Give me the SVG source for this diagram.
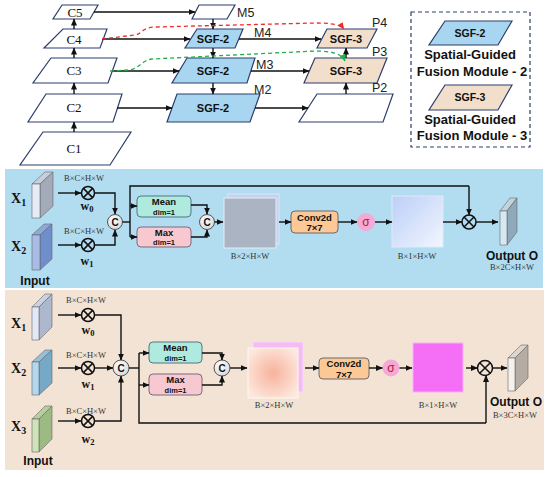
<svg xmlns="http://www.w3.org/2000/svg" width="550" height="477" viewBox="0 0 550 477">
<defs>
<marker id="ah" markerUnits="userSpaceOnUse" markerWidth="7" markerHeight="6" refX="6.5" refY="3" orient="auto"><path d="M0,0 L7,3 L0,6 z" fill="#111"/></marker>
<marker id="ahr" markerUnits="userSpaceOnUse" markerWidth="7" markerHeight="6" refX="6.5" refY="3" orient="auto"><path d="M0,0 L7,3 L0,6 z" fill="#ee2a2a"/></marker>
<marker id="ahg" markerUnits="userSpaceOnUse" markerWidth="7" markerHeight="6" refX="6.5" refY="3" orient="auto"><path d="M0,0 L7,3 L0,6 z" fill="#22b14c"/></marker>
<linearGradient id="sigB" x1="0" y1="0" x2="1" y2="1"><stop offset="0" stop-color="#bccff8"/><stop offset="1" stop-color="#f2f6fe"/></linearGradient>
<radialGradient id="peach" cx="0.5" cy="0.5" r="0.6"><stop offset="0" stop-color="#f8b29c"/><stop offset="1" stop-color="#fce8de"/></radialGradient>
<radialGradient id="cg" cx="0.4" cy="0.35" r="0.7"><stop offset="0" stop-color="#ffffff"/><stop offset="1" stop-color="#d6d6d6"/></radialGradient>
<style>
.pg{stroke:#2c3e6b;stroke-width:1.2;fill:#fff}
.s2{fill:#a8d6f0}
.s3{fill:#f2dfcb}
.ln{fill:none;stroke:#111;stroke-width:1.4}
.ar{fill:none;stroke:#111;stroke-width:1.4;marker-end:url(#ah)}
.cl{font-family:"Liberation Serif",serif;font-size:13px;fill:#111;text-anchor:middle}
.ml{font-family:"Liberation Sans",sans-serif;font-size:12.5px;fill:#222}
.sg{font-family:"Liberation Sans",sans-serif;font-size:11px;font-weight:bold;fill:#111;text-anchor:middle}
.lg{font-family:"Liberation Sans",sans-serif;font-size:13px;font-weight:bold;fill:#111;text-anchor:middle}
.dm{font-family:"Liberation Serif",serif;font-size:8.5px;fill:#333;text-anchor:middle}
.xl{font-family:"Liberation Serif",serif;font-size:14px;font-weight:bold;fill:#111}
.wl{font-family:"Liberation Serif",serif;font-size:12px;font-weight:bold;fill:#111;text-anchor:middle}
.bx{font-family:"Liberation Sans",sans-serif;font-weight:bold;fill:#111;text-anchor:middle}
.ot{font-family:"Liberation Sans",sans-serif;font-size:12px;font-weight:bold;fill:#111;text-anchor:middle}
.ox{fill:none;stroke:#111;stroke-width:1.5}
.cc{fill:url(#cg);stroke:#555;stroke-width:1}
.ct{font-family:"Liberation Sans",sans-serif;font-size:10px;font-weight:bold;fill:#111;text-anchor:middle}
.sl{stroke:#666;stroke-width:0.6}
.mean{fill:#aeeadd;stroke:#557585;stroke-width:1}
.max{fill:#f8c8d0;stroke:#7a6a80;stroke-width:1}
.conv{fill:#fbc896;stroke:#6a6a6a;stroke-width:1}
.sig{fill:#f5a9d5}
.sigt{font-family:"Liberation Sans",sans-serif;font-size:12px;fill:#b02040;text-anchor:middle}
</style>
</defs>

<!-- Top pyramid -->
<g id="C5"><polygon class="pg" points="62,5 98,5 90,19 53,19"/><text class="cl" x="75" y="17">C5</text></g>
<g id="C4"><polygon class="pg" points="63,29 107,29 100,48 44,48"/><text class="cl" x="74" y="44">C4</text></g>
<g id="C3"><polygon class="pg" points="51,58 117,58 108,83 33,83"/><text class="cl" x="74" y="75">C3</text></g>
<g id="C2"><polygon class="pg" points="46,94 122,94 113,122 28,122"/><text class="cl" x="74" y="112">C2</text></g>
<g id="C1"><polygon class="pg" points="43,132 131,132 110,165 20,165"/><text class="cl" x="74" y="153">C1</text></g>

<g id="M5"><polygon class="pg" points="199,5 235,5 227,19 192,19"/><text class="ml" x="237" y="17">M5</text></g>
<g id="M4"><polygon class="pg s2" points="197,29 243,29 235,48 185,48"/><text class="sg" x="213" y="43">SGF-2</text><text class="ml" x="254" y="37">M4</text></g>
<g id="M3"><polygon class="pg s2" points="187,58 255,58 247,83 172,83"/><text class="sg" x="213" y="75">SGF-2</text><text class="ml" x="256" y="69">M3</text></g>
<g id="M2"><polygon class="pg s2" points="177,94 260,94 250,122 167,122"/><text class="sg" x="213" y="112">SGF-2</text><text class="ml" x="254" y="94">M2</text></g>

<g id="P4"><polygon class="pg s3" points="327,29 377,29 367,48 317,48"/><text class="sg" x="346" y="43">SGF-3</text><text class="ml" x="372" y="27">P4</text></g>
<g id="P3"><polygon class="pg s3" points="315,58 387,58 377,83 304,83"/><text class="sg" x="346" y="75">SGF-3</text><text class="ml" x="372" y="56">P3</text></g>
<g id="P2"><polygon class="pg" points="317,94 393,94 383,122 299,122"/><text class="ml" x="372" y="92">P2</text></g>

<g id="top-connectors">
<line class="ar" x1="74" y1="132" x2="74" y2="122"/>
<line class="ar" x1="74" y1="94" x2="74" y2="83"/>
<line class="ar" x1="74" y1="58" x2="74" y2="48"/>
<line class="ar" x1="74" y1="29" x2="74" y2="19"/>
<line class="ar" x1="94" y1="12" x2="195" y2="12"/>
<line class="ar" x1="102" y1="39" x2="190" y2="39"/>
<line class="ar" x1="112" y1="71" x2="179" y2="71"/>
<line class="ar" x1="117" y1="108" x2="172" y2="108"/>
<line class="ar" x1="213" y1="19" x2="213" y2="29"/>
<line class="ar" x1="213" y1="48" x2="213" y2="58"/>
<line class="ar" x1="213" y1="83" x2="213" y2="94"/>
<line class="ar" x1="239" y1="39" x2="321" y2="39"/>
<line class="ar" x1="251" y1="71" x2="309" y2="71"/>
<line class="ar" x1="255" y1="108" x2="308" y2="108"/>
<line class="ar" x1="346" y1="94" x2="346" y2="83"/>
<line class="ar" x1="346" y1="58" x2="346" y2="48"/>
<path d="M102,39 L135,35 C142,34 141,28 155,27 L315,23 C333,23 341,25 344,29" fill="none" stroke="#ee2a2a" stroke-width="1.3" stroke-dasharray="4,3" marker-end="url(#ahr)"/>
<path d="M110,71 L128,70 C140,69 140,61 152,59 L315,51 C333,51 342,54 345,61" fill="none" stroke="#22b14c" stroke-width="1.3" stroke-dasharray="4,3" marker-end="url(#ahg)"/>
</g>

<!-- Legend -->
<g id="legend">
<rect x="411" y="12" width="119" height="135" fill="none" stroke="#2c3e6b" stroke-width="1.2" stroke-dasharray="4,3"/>
<polygon class="pg s2" points="445,21 512,21 498,45 429,45"/><text class="sg" x="470" y="37" style="font-size:10.5px">SGF-2</text>
<text class="lg" x="470" y="59">Spatial-Guided</text><text class="lg" x="472" y="76">Fusion Module - 2</text>
<polygon class="pg s3" points="445,85 512,85 498,110 429,110"/><text class="sg" x="470" y="101" style="font-size:10.5px">SGF-3</text>
<text class="lg" x="470" y="124">Spatial-Guided</text><text class="lg" x="472" y="140">Fusion Module - 3</text>
</g>

<!-- Panels -->
<rect x="5" y="169" width="538" height="119" fill="#b2dcef"/>
<rect x="5" y="290" width="539" height="180" fill="#f2e3d5"/>

<!-- Middle panel (SGF-2) -->
<g id="mid-X1">
<polygon class="sl" fill="#c8cfdc" points="32,184 45,172 53,172 40,184"/>
<polygon class="sl" fill="#a3aab8" points="40,184 53,172 53,206 40,218"/>
<rect class="sl" fill="#e6ecf7" x="32" y="184" width="8" height="34"/>
<text class="xl" x="11" y="203">X<tspan font-size="10" dy="3">1</tspan></text>
</g>
<g id="mid-X2">
<polygon class="sl" fill="#8ea8dc" points="32,235 44,224 52,224 40,235"/>
<polygon class="sl" fill="#6f8fcc" points="40,235 52,224 52,259 40,270"/>
<rect class="sl" fill="#a7bde8" x="32" y="235" width="8" height="35"/>
<text class="xl" x="11" y="251">X<tspan font-size="10" dy="3">2</tspan></text>
<text class="ot" x="35" y="285">Input</text>
</g>
<g id="mid-w0"><circle class="ox" cx="88" cy="193" r="6.5"/><path class="ox" d="M83.4,188.4 L92.6,197.6 M92.6,188.4 L83.4,197.6"/>
<text class="dm" x="84" y="181">B×C×H×W</text><text class="wl" x="87" y="210">w<tspan font-size="8.5" dy="1.5">0</tspan></text></g>
<g id="mid-w1"><circle class="ox" cx="88" cy="245" r="6.5"/><path class="ox" d="M83.4,240.4 L92.6,249.6 M92.6,240.4 L83.4,249.6"/>
<text class="dm" x="84" y="234">B×C×H×W</text><text class="wl" x="87" y="265">w<tspan font-size="8.5" dy="1.5">1</tspan></text></g>
<g id="mid-cat1"><circle class="cc" cx="115" cy="222" r="7.5"/><text class="ct" x="115" y="225.5">C</text></g>
<g id="mid-mean"><rect class="mean" x="137" y="196" width="54" height="21" rx="4"/><text class="bx" x="164" y="205" font-size="9.5">Mean</text><text class="bx" x="164" y="214.5" font-size="7.5">dim=1</text></g>
<g id="mid-max"><rect class="max" x="137" y="227" width="54" height="20" rx="4"/><text class="bx" x="164" y="236" font-size="9.5">Max</text><text class="bx" x="164" y="245" font-size="7.5">dim=1</text></g>
<g id="mid-cat2"><circle class="cc" cx="207" cy="222" r="7.5"/><text class="ct" x="207" y="225.5">C</text></g>
<g id="mid-fmap">
<rect x="228" y="194" width="51" height="50" fill="#c4d2f2" stroke="#dce6fa" stroke-width="1"/>
<rect x="224" y="198" width="52" height="50" fill="#aab4c3" stroke="#e4ecf6" stroke-width="1"/>
<text class="dm" x="250" y="259">B×2×H×W</text>
</g>
<g id="mid-conv"><rect class="conv" x="291" y="211" width="47" height="22" rx="4"/><text class="bx" x="314.5" y="220.5" font-size="9.5">Conv2d</text><text class="bx" x="314.5" y="231" font-size="9.5">7×7</text></g>
<g id="mid-sigma"><circle class="sig" cx="366" cy="222" r="9"/><text class="sigt" x="366" y="226">σ</text></g>
<g id="mid-smap"><rect x="392" y="196" width="51" height="51" fill="url(#sigB)" stroke="#dfeaf8" stroke-width="1"/><text class="dm" x="417" y="259">B×1×H×W</text></g>
<g id="mid-mul"><circle class="ox" cx="469" cy="222" r="7"/><path class="ox" d="M464,217 L474,227 M474,217 L464,227"/></g>
<g id="mid-out">
<polygon class="sl" fill="#c0d4df" points="500,211 510,198 517,198 507,211"/>
<polygon class="sl" fill="#8ea9b9" points="507,211 517,198 517,232 507,245"/>
<rect class="sl" fill="#d6e9f3" x="500" y="211" width="7" height="34"/>
<text class="ot" x="512" y="260">Output O</text><text class="dm" x="512" y="270">B×2C×H×W</text>
</g>
<g id="mid-connectors">
<line class="ar" x1="58" y1="193" x2="81" y2="193"/>
<line class="ar" x1="58" y1="245" x2="81" y2="245"/>
<polyline class="ar" points="94.5,193 115,193 115,214"/>
<polyline class="ar" points="94.5,245 115,245 115,230"/>
<polyline class="ln" points="122.5,222 130,222"/>
<polyline class="ln" points="130,237 130,186 469,186"/>
<line class="ar" x1="469" y1="186" x2="469" y2="215"/>
<line class="ar" x1="130" y1="206" x2="137" y2="206"/>
<line class="ar" x1="130" y1="237" x2="137" y2="237"/>
<polyline class="ar" points="191,205 207,205 207,214"/>
<polyline class="ar" points="191,237 207,237 207,230"/>
<line class="ar" x1="214.5" y1="222" x2="223" y2="222"/>
<line class="ar" x1="279" y1="222" x2="291" y2="222"/>
<line class="ar" x1="338" y1="222" x2="357" y2="222"/>
<line class="ar" x1="375" y1="222" x2="392" y2="222"/>
<line class="ar" x1="443" y1="222" x2="462" y2="222"/>
<line class="ar" x1="476" y1="222" x2="498" y2="222"/>
</g>

<!-- Bottom panel (SGF-3) -->
<g id="bot-X1">
<polygon class="sl" fill="#c9d2e3" points="32,307 45,294 52,294 39,307"/>
<polygon class="sl" fill="#adb8cf" points="39,307 52,294 52,327 39,340"/>
<rect class="sl" fill="#e2e8f5" x="32" y="307" width="7" height="33"/>
<text class="xl" x="11" y="328">X<tspan font-size="10" dy="3">1</tspan></text>
</g>
<g id="bot-X2">
<polygon class="sl" fill="#94c0dc" points="32,362 45,350 52,350 39,362"/>
<polygon class="sl" fill="#76a8c8" points="39,362 52,350 52,383 39,395"/>
<rect class="sl" fill="#b3d8ee" x="32" y="362" width="7" height="33"/>
<text class="xl" x="11" y="373">X<tspan font-size="10" dy="3">2</tspan></text>
</g>
<g id="bot-X3">
<polygon class="sl" fill="#b6cf9c" points="32,419 45,406 52,406 39,419"/>
<polygon class="sl" fill="#9cbb82" points="39,419 52,406 52,439 39,452"/>
<rect class="sl" fill="#cfe2b8" x="32" y="419" width="7" height="33"/>
<text class="xl" x="11" y="431">X<tspan font-size="10" dy="3">3</tspan></text>
<text class="ot" x="38" y="465">Input</text>
</g>
<g id="bot-w0"><circle class="ox" cx="88" cy="315" r="6.5"/><path class="ox" d="M83.4,310.4 L92.6,319.6 M92.6,310.4 L83.4,319.6"/>
<text class="dm" x="86" y="303">B×C×H×W</text><text class="wl" x="88" y="334">w<tspan font-size="8.5" dy="1.5">0</tspan></text></g>
<g id="bot-w1"><circle class="ox" cx="88" cy="368" r="6.5"/><path class="ox" d="M83.4,363.4 L92.6,372.6 M92.6,363.4 L83.4,372.6"/>
<text class="dm" x="86" y="358">B×C×H×W</text><text class="wl" x="88" y="388">w<tspan font-size="8.5" dy="1.5">1</tspan></text></g>
<g id="bot-w2"><circle class="ox" cx="88" cy="421" r="6.5"/><path class="ox" d="M83.4,416.4 L92.6,425.6 M92.6,416.4 L83.4,425.6"/>
<text class="dm" x="86" y="414">B×C×H×W</text><text class="wl" x="88" y="443">w<tspan font-size="8.5" dy="1.5">2</tspan></text></g>
<g id="bot-cat1"><circle class="cc" cx="121" cy="368" r="8"/><text class="ct" x="121" y="371.5">C</text></g>
<g id="bot-mean"><rect class="mean" x="149" y="342" width="53" height="21" rx="4"/><text class="bx" x="175.5" y="351" font-size="9.5">Mean</text><text class="bx" x="175.5" y="360.5" font-size="7.5">dim=1</text></g>
<g id="bot-max"><rect class="max" x="149" y="374" width="53" height="21" rx="4"/><text class="bx" x="175.5" y="383" font-size="9.5">Max</text><text class="bx" x="175.5" y="392.5" font-size="7.5">dim=1</text></g>
<g id="bot-cat2"><circle class="cc" cx="222" cy="368" r="8"/><text class="ct" x="222" y="371.5">C</text></g>
<g id="bot-fmap">
<rect x="253" y="342" width="50" height="50" fill="#f3bdf3" stroke="#fad8fa" stroke-width="1"/>
<rect x="248" y="348" width="50" height="50" fill="url(#peach)" stroke="#fff6f0" stroke-width="1"/>
<text class="dm" x="274" y="408">B×2×H×W</text>
</g>
<g id="bot-conv"><rect class="conv" x="319" y="358" width="50" height="21" rx="4"/><text class="bx" x="344" y="367" font-size="9.5">Conv2d</text><text class="bx" x="344" y="377.5" font-size="9.5">7×7</text></g>
<g id="bot-sigma"><circle class="sig" cx="391" cy="368" r="8.5"/><text class="sigt" x="391" y="372">σ</text></g>
<g id="bot-smap"><rect x="413" y="343" width="50" height="49" fill="#f56ef6" stroke="#fab0fa" stroke-width="1"/><text class="dm" x="438" y="408">B×1×H×W</text></g>
<g id="bot-mul"><circle class="ox" cx="485" cy="368" r="7.5"/><path class="ox" d="M479.7,362.7 L490.3,373.3 M490.3,362.7 L479.7,373.3"/></g>
<g id="bot-out">
<polygon class="sl" fill="#ddd6cd" points="508,358 521,345 528,345 515,358"/>
<polygon class="sl" fill="#b5ada3" points="515,358 528,345 528,378 515,391"/>
<rect class="sl" fill="#f5f1ec" x="508" y="358" width="7" height="33"/>
<text class="ot" x="516" y="406">Output O</text><text class="dm" x="515" y="418">B×3C×H×W</text>
</g>
<g id="bot-connectors">
<line class="ar" x1="58" y1="315" x2="81" y2="315"/>
<line class="ar" x1="58" y1="368" x2="81" y2="368"/>
<line class="ar" x1="58" y1="421" x2="81" y2="421"/>
<polyline class="ar" points="94.5,315 121,315 121,360"/>
<line class="ar" x1="94.5" y1="368" x2="113" y2="368"/>
<polyline class="ar" points="94.5,421 121,421 121,376"/>
<line class="ln" x1="129" y1="368" x2="139" y2="368"/>
<polyline class="ln" points="139,353 139,423 486,423"/>
<line class="ar" x1="486" y1="423" x2="486" y2="375.5"/>
<line class="ar" x1="139" y1="353" x2="149" y2="353"/>
<line class="ar" x1="139" y1="385" x2="149" y2="385"/>
<polyline class="ar" points="202,353 222,353 222,360"/>
<polyline class="ar" points="202,385 222,385 222,376"/>
<line class="ar" x1="230" y1="368" x2="247" y2="368"/>
<line class="ar" x1="305" y1="368" x2="319" y2="368"/>
<line class="ar" x1="369" y1="368" x2="382.5" y2="368"/>
<line class="ar" x1="399.5" y1="368" x2="412" y2="368"/>
<line class="ar" x1="466" y1="368" x2="477.5" y2="368"/>
<line class="ar" x1="492.5" y1="368" x2="507" y2="368"/>
</g>
</svg>
